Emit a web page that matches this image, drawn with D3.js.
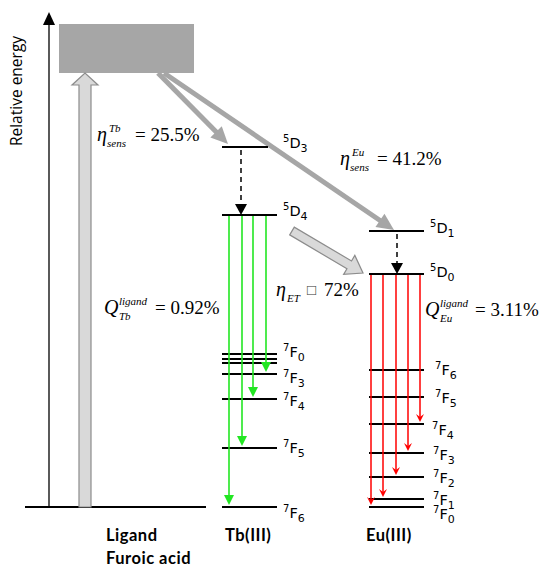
<!DOCTYPE html>
<html>
<head>
<meta charset="utf-8">
<script src="https://cdn.jsdelivr.net/npm/d3@7"></script>
<style>
  html, body { margin: 0; padding: 0; background: #fff; }
  svg { display: block; }
</style>
</head>
<body>
<script>
// Relative energies (arbitrary units) of the levels in each column
const tbLevels = ["7F6", "7F5", "7F4", "7F3", "7F2", "7F1", "7F0", "5D4", "5D3"];
const tbEnergy = [0, 59, 108, 133, 144, 148, 153, 292, 360];
const euLevels = ["7F0", "7F1", "7F2", "7F3", "7F4", "7F5", "7F6", "5D0", "5D1"];
const euEnergy = [0, 8, 30, 54, 83, 110, 137, 233, 276];
const ligandGround = 0;
const ligandTripletTop = 483;
const ligandTripletBottom = 434;

// Labelled Tb levels (the 7F2/7F1 lines sit under the 7F0 label)
const tbLabelled = ["5D3", "5D4", "7F0", "7F3", "7F4", "7F5", "7F6"];
const euLabelled = ["5D1", "5D0", "7F6", "7F5", "7F4", "7F3", "7F2", "7F1", "7F0"];

// Emissive transitions
const tbEmitFrom = "5D4";
const tbEmitTo = ["7F6", "7F5", "7F4", "7F3"];
const euEmitFrom = "5D0";
const euEmitTo = ["7F0", "7F1", "7F2", "7F3", "7F4"];

// Efficiencies written on the diagram
const etaSensTb = "25.5%";
const etaSensEu = "41.2%";
const qTb = "0.92%";
const qEu = "3.11%";
const etaET = "72%";

const W = 542, H = 569;
const svg = d3.select("body").append("svg").attr("width", W).attr("height", H);

const y = d3.scaleLinear().domain([0, 500]).range([507, 7]);
const tbE = Object.fromEntries(tbLevels.map((k, i) => [k, tbEnergy[i]]));
const euE = Object.fromEntries(euLevels.map((k, i) => [k, euEnergy[i]]));

// column geometry
const tbX0 = 222, tbX1 = 277;
const euX0 = 369, euX1 = 424;

// ---------- energy axis ----------
svg.append("line").attr("x1", 49).attr("x2", 49).attr("y1", y(0)).attr("y2", 24)
  .attr("stroke", "#000").attr("stroke-width", 1.3);
svg.append("path").attr("d", "M43,25 L49,12 L55,25 Z").attr("fill", "#000");
svg.append("text").attr("transform", "translate(22,91) rotate(-90)")
  .attr("text-anchor", "middle").attr("font-family", "Open Sans, sans-serif")
  .attr("font-size", 15.5).text("Relative energy");

// ---------- ligand ----------
svg.append("line").attr("x1", 25).attr("x2", 206).attr("y1", y(ligandGround)).attr("y2", y(ligandGround))
  .attr("stroke", "#000").attr("stroke-width", 2);
svg.append("rect").attr("x", 59).attr("width", 135)
  .attr("y", y(ligandTripletTop)).attr("height", y(ligandTripletBottom) - y(ligandTripletTop))
  .attr("fill", "#a6a6a6");

// absorption block arrow
{
  const top = y(ligandTripletBottom), bot = y(ligandGround), cx = 85;
  const sw = 6, hw = 13, hl = 12;
  svg.append("path")
    .attr("d", `M${cx - sw},${bot} L${cx - sw},${top + hl} L${cx - hw},${top + hl} L${cx},${top} L${cx + hw},${top + hl} L${cx + sw},${top + hl} L${cx + sw},${bot} Z`)
    .attr("fill", "#d9d9d9").attr("stroke", "#8c8c8c").attr("stroke-width", 1.2);
}

// ---------- helpers ----------
function lineArrow(x1, y1, x2, y2, width, color, hl, hw) {
  const dx = x2 - x1, dy = y2 - y1, L = Math.hypot(dx, dy);
  const ux = dx / L, uy = dy / L, px = -uy, py = ux;
  const bx = x2 - ux * hl, by = y2 - uy * hl;
  svg.append("line").attr("x1", x1).attr("y1", y1).attr("x2", bx + ux * 1).attr("y2", by + uy * 1)
    .attr("stroke", color).attr("stroke-width", width);
  svg.append("path")
    .attr("d", `M${x2},${y2} L${bx + px * hw},${by + py * hw} L${bx - px * hw},${by - py * hw} Z`)
    .attr("fill", color);
}
function blockArrow(x1, y1, x2, y2, sw, hw, hl) {
  const dx = x2 - x1, dy = y2 - y1, L = Math.hypot(dx, dy);
  const ux = dx / L, uy = dy / L, px = -uy, py = ux;
  const bx = x2 - ux * hl, by = y2 - uy * hl;
  const p = [
    [x1 + px * sw, y1 + py * sw], [bx + px * sw, by + py * sw], [bx + px * hw, by + py * hw],
    [x2, y2],
    [bx - px * hw, by - py * hw], [bx - px * sw, by - py * sw], [x1 - px * sw, y1 - py * sw]
  ];
  svg.append("path").attr("d", "M" + p.map(q => q.join(",")).join("L") + "Z")
    .attr("fill", "#d9d9d9").attr("stroke", "#8c8c8c").attr("stroke-width", 1.2);
}
function levelLabel(x, yy, term) {
  const t = svg.append("text").attr("x", x).attr("y", yy)
    .attr("font-family", "DejaVu Sans, sans-serif").attr("font-size", 14.5).attr("fill", "#000");
  t.append("tspan").attr("font-size", 10).attr("dy", -6).text(term[0]);
  t.append("tspan").attr("dy", 6).text(term[1]);
  t.append("tspan").attr("font-size", 11).attr("dy", 4).text(term.slice(2));
}

// ---------- sensitisation arrows ----------
lineArrow(158, 73, 228, y(tbE["5D3"]) - 3, 5, "#a6a6a6", 17, 8);
lineArrow(164, 73, 394, y(euE["5D1"]) - 1, 5, "#a6a6a6", 17, 8);

// ---------- Tb(III) ----------
const tbLen = { "5D3": 268 };
tbLevels.forEach(k => {
  svg.append("line").attr("x1", tbX0).attr("x2", tbLen[k] || tbX1)
    .attr("y1", y(tbE[k])).attr("y2", y(tbE[k]))
    .attr("stroke", "#000").attr("stroke-width", 2);
});
// non-radiative relaxation 5D3 -> 5D4
svg.append("line").attr("x1", 241).attr("x2", 241).attr("y1", y(tbE["5D3"]) + 3).attr("y2", y(tbE["5D4"]) - 10)
  .attr("stroke", "#000").attr("stroke-width", 1.5).attr("stroke-dasharray", "5,4");
svg.append("path").attr("d", `M235,${y(tbE["5D4"]) - 11} L247,${y(tbE["5D4"]) - 11} L241,${y(tbE["5D4"])} Z`).attr("fill", "#000");

// green emission
const tbEmitX = [229, 242, 253, 266];
tbEmitTo.forEach((k, i) => {
  const x = tbEmitX[i], y0 = y(tbE[tbEmitFrom]) + 1, y1 = y(tbE[k]) - 2;
  svg.append("line").attr("x1", x).attr("x2", x).attr("y1", y0).attr("y2", y1 - 8)
    .attr("stroke", "#22e622").attr("stroke-width", 1.6);
  svg.append("path").attr("d", `M${x - 5},${y1 - 10} L${x + 5},${y1 - 10} L${x},${y1} Z`).attr("fill", "#22e622");
});

const tbLabelDy = { "5D3": 1, "5D4": 1, "7F0": 3, "7F3": 9, "7F4": 7, "7F5": 5, "7F6": 11 };
tbLabelled.forEach(k => levelLabel(283, y(tbE[k]) + tbLabelDy[k], k));

// ---------- Eu(III) ----------
euLevels.forEach(k => {
  svg.append("line").attr("x1", euX0).attr("x2", euX1)
    .attr("y1", y(euE[k])).attr("y2", y(euE[k]))
    .attr("stroke", "#000").attr("stroke-width", 2);
});
svg.append("line").attr("x1", 397).attr("x2", 397).attr("y1", y(euE["5D1"]) + 3).attr("y2", y(euE["5D0"]) - 10)
  .attr("stroke", "#000").attr("stroke-width", 1.5).attr("stroke-dasharray", "5,4");
svg.append("path").attr("d", `M391,${y(euE["5D0"]) - 11} L403,${y(euE["5D0"]) - 11} L397,${y(euE["5D0"])} Z`).attr("fill", "#000");

// red emission
const euEmitX = [371, 383, 396, 408, 420];
euEmitTo.forEach((k, i) => {
  const x = euEmitX[i], y0 = y(euE[euEmitFrom]) + 1, y1 = y(euE[k]) - 2;
  svg.append("line").attr("x1", x).attr("x2", x).attr("y1", y0).attr("y2", y1 - 2)
    .attr("stroke", "#ff0000").attr("stroke-width", 1.5);
  svg.append("path").attr("d", `M${x - 4},${y1 - 8} L${x},${y1 - 5} L${x + 4},${y1 - 8} L${x},${y1} Z`).attr("fill", "#ff0000");
});

const euLabelX = { "5D1": 430, "5D0": 430, "7F6": 435, "7F5": 435, "7F4": 432, "7F3": 433, "7F2": 433, "7F1": 433, "7F0": 433 };
const euLabelDy = { "5D1": 2, "5D0": 3, "7F6": 5, "7F5": 6, "7F4": 11, "7F3": 7, "7F2": 6, "7F1": 6, "7F0": 12 };
euLabelled.forEach(k => levelLabel(euLabelX[k], y(euE[k]) + euLabelDy[k], k));

// ---------- Tb -> Eu energy transfer ----------
blockArrow(292, 231, 363, 273, 4.5, 11, 16);

// ---------- efficiency labels ----------
function mathLabel(x, yb, sym, sup, sub, rest, restX) {
  const g = svg.append("g").attr("font-family", "Liberation Serif, Times New Roman, serif");
  g.append("text").attr("x", x).attr("y", yb).attr("font-size", 20).attr("font-style", "italic").text(sym);
  const sx = x + (sym === "Q" ? 15 : 12);
  if (sup) g.append("text").attr("x", sx).attr("y", yb - 9).attr("font-size", 11).attr("font-style", "italic").text(sup);
  if (sub) g.append("text").attr("x", sx - (sym === "Q" ? 0 : 2)).attr("y", yb + 6).attr("font-size", 11).attr("font-style", "italic").text(sub);
  g.append("text").attr("x", restX).attr("y", yb).attr("font-size", 19).text(rest);
}
mathLabel(97, 141, "η", "Tb", "sens", "= " + etaSensTb, 135);
mathLabel(340, 165, "η", "Eu", "sens", "= " + etaSensEu, 377);
mathLabel(104, 314, "Q", "ligand", "Tb", "= " + qTb, 155);
mathLabel(425, 316, "Q", "ligand", "Eu", "= " + qEu, 475);
{
  const g = svg.append("g").attr("font-family", "Liberation Serif, Times New Roman, serif");
  g.append("text").attr("x", 276).attr("y", 296).attr("font-size", 20).attr("font-style", "italic").text("η");
  g.append("text").attr("x", 287).attr("y", 302).attr("font-size", 11).attr("font-style", "italic").text("ET");
  g.append("text").attr("x", 307).attr("y", 295).attr("font-size", 15).attr("fill", "#333").text("□");
  g.append("text").attr("x", 324).attr("y", 296).attr("font-size", 19).text(etaET);
}

// ---------- column titles ----------
const titles = [["Ligand", 106, 541], ["Furoic acid", 106, 564], ["Tb(III)", 225, 541], ["Eu(III)", 366, 541]];
titles.forEach(([t, x, yy]) => {
  svg.append("text").attr("x", x).attr("y", yy).attr("font-family", "Lato, Open Sans, sans-serif")
    .attr("font-weight", "bold").attr("font-size", 16.5).attr("letter-spacing", 0.5).text(t);
});
</script>
</body>
</html>
